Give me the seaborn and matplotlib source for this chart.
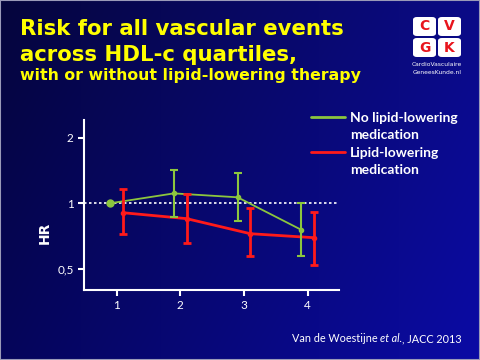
import numpy as np
import pandas as pd
import matplotlib
matplotlib.use("Agg")
import matplotlib.pyplot as plt
import seaborn as sns
from matplotlib.lines import Line2D
from matplotlib.patches import FancyBboxPatch, Rectangle
from matplotlib.ticker import NullLocator

# data (HR with 95% CI per HDL-c quartile)
quartiles = [1, 2, 3, 4]
no_med_hr = [1.00, 1.11, 1.065, 0.755]
no_med_lo = [1.00, 0.865, 0.83, 0.57]
no_med_hi = [1.00, 1.42, 1.38, 1.00]
med_hr = [0.905, 0.85, 0.725, 0.695]
med_lo = [0.72, 0.66, 0.57, 0.52]
med_hi = [1.165, 1.10, 0.95, 0.91]

y_ticks = [0.5, 1, 2]
y_ticklabels = ["0,5", "1", "2"]
legend_labels = ["No lipid-lowering", "medication", "Lipid-lowering", "medication"]

green = "#8cc63e"
red = "#ff1a1a"
yellow = "#ffff00"

sns.set_style("white")
plt.rcParams["font.family"] = ["DejaVu Sans"]

fig = plt.figure(figsize=(4.8, 3.6), dpi=100)

# slide background gradient
bg = fig.add_axes([0, 0, 1, 1], zorder=-10)
xx, yy = np.meshgrid(np.linspace(0, 1, 200), np.linspace(0, 1, 150))
img = np.zeros((150, 200, 3))
img[..., 0] = (5 + 6 * xx) / 255
img[..., 1] = (5 + 6 * xx) / 255
img[..., 2] = np.clip(60 + 75 * xx + 30 * yy, 0, 255) / 255
bg.imshow(img, extent=[0, 1, 1, 0], aspect="auto")
bg.set_xlim(0, 1)
bg.set_ylim(1, 0)
bg.axis("off")
bg.add_patch(Rectangle((0, 0), 1, 1, fill=False, ec="#9a9ab8", lw=1.5,
                       transform=bg.transAxes))

# title
fig.text(20 / 480, 1 - 35 / 360, "Risk for all vascular events", color=yellow,
         fontsize=15.3, fontweight="bold", va="baseline")
fig.text(20 / 480, 1 - 61 / 360, "across HDL-c quartiles,", color=yellow,
         fontsize=15.3, fontweight="bold", va="baseline")
fig.text(20 / 480, 1 - 80 / 360, "with or without lipid-lowering therapy", color=yellow,
         fontsize=11.3, fontweight="bold", va="baseline")

# logo
for (lx, ly, letter) in [(413, 17, "C"), (438, 17, "V"), (413, 38, "G"), (438, 38, "K")]:
    fig.patches.append(FancyBboxPatch((lx / 480, 1 - (ly + 19) / 360), 23 / 480, 19 / 360,
                                      boxstyle="round,pad=0,rounding_size=0.008",
                                      fc="white", ec="none", transform=fig.transFigure))
    fig.text((lx + 11.5) / 480, 1 - (ly + 9.5) / 360, letter, color="#e8141c",
             fontsize=10, fontweight="bold", ha="center", va="center")
fig.text(437 / 480, 1 - 64 / 360, "CardioVasculaire", color="white", fontsize=4.3,
         ha="center", va="center", family="Liberation Sans Narrow")
fig.text(437 / 480, 1 - 72 / 360, "GeneesKunde.nl", color="white", fontsize=4.3,
         ha="center", va="center", family="Liberation Sans Narrow")

# main chart
ax = fig.add_axes([84 / 480, 1 - 290 / 360, 255 / 480, 170 / 360])
ax.set_facecolor("none")

df = pd.DataFrame({
    "quartile": quartiles * 2,
    "hr": no_med_hr + med_hr,
    "lo": no_med_lo + med_lo,
    "hi": no_med_hi + med_hi,
    "group": ["none"] * 4 + ["med"] * 4,
})
df["xpos"] = df["quartile"] + np.where(df["group"] == "none", -0.1, 0.1)

ax.axhline(1, color="white", ls=(0, (1.5, 1.5)), lw=1.2, zorder=1)

sns.lineplot(data=df, x="xpos", y="hr", hue="group", palette={"none": green, "med": red},
             ax=ax, legend=False, estimator=None, zorder=3)
ax.lines[-2].set_linewidth(1.3)
ax.lines[-1].set_linewidth(2.0)

for grp, col, lw in [("none", green, 1.5), ("med", red, 2.0)]:
    sub = df[df["group"] == grp]
    if grp == "none":
        ax.plot(sub["xpos"].iloc[0], sub["hr"].iloc[0], "o", color=col, ms=5, zorder=4)
        sub = sub.iloc[1:]
    ax.errorbar(sub["xpos"], sub["hr"],
                yerr=[sub["hr"] - sub["lo"], sub["hi"] - sub["hr"]],
                fmt="o", ms=3, color=col, ecolor=col, elinewidth=lw, capsize=3,
                capthick=lw, zorder=4)

ax.set_yscale("log")
ax.set_ylim(0.4, 2.41)
ax.set_xlim(0.49, 4.49)
ax.set_yticks(y_ticks)
ax.set_yticklabels(y_ticklabels)
ax.yaxis.set_minor_locator(NullLocator())
ax.set_xticks(quartiles)
ax.set_xlabel("")
ax.set_ylabel("HR", color="white", fontsize=10, fontweight="bold")
ax.yaxis.set_label_coords(-0.125, 0.335)
ax.tick_params(colors="white", labelsize=8.5, length=4, width=1.5, direction="out",
               left=True, bottom=True)
for lab in ax.get_xticklabels() + ax.get_yticklabels():
    lab.set_family("Lato")
for side in ["top", "right"]:
    ax.spines[side].set_visible(False)
for side in ["left", "bottom"]:
    ax.spines[side].set_color("white")
    ax.spines[side].set_linewidth(1.5)

handles = [Line2D([], [], color=green, lw=2), Line2D([], [], color="none"),
           Line2D([], [], color=red, lw=2), Line2D([], [], color="none")]
leg = fig.legend(handles, legend_labels, loc="upper left",
                 bbox_to_anchor=(298 / 480, 1 - 99 / 360), frameon=False,
                 handlelength=2.5, handletextpad=0.35, labelspacing=0.4,
                 prop={"family": "Lato", "weight": "bold", "size": 10})
for t in leg.get_texts():
    t.set_color("white")

# citation
cite_y = 1 - 342 / 360
t1 = fig.text(292 / 480, cite_y, "Van de Woestijne ", color="white", fontsize=7.8,
              family="Lato", va="baseline")
t2 = fig.text(0, cite_y, "et al.", color="white", fontsize=7.8, family="Lato",
              style="italic", va="baseline")
fig.canvas.draw()
r = fig.canvas.get_renderer()
bb = t1.get_window_extent(r)
t2.set_position((bb.x1 / fig.bbox.width, cite_y))
bb2 = t2.get_window_extent(r)
fig.text(bb2.x1 / fig.bbox.width, cite_y, ", JACC 2013", color="white",
         fontsize=7.8, family="Lato", va="baseline")

fig.savefig("out.png", dpi=100)
